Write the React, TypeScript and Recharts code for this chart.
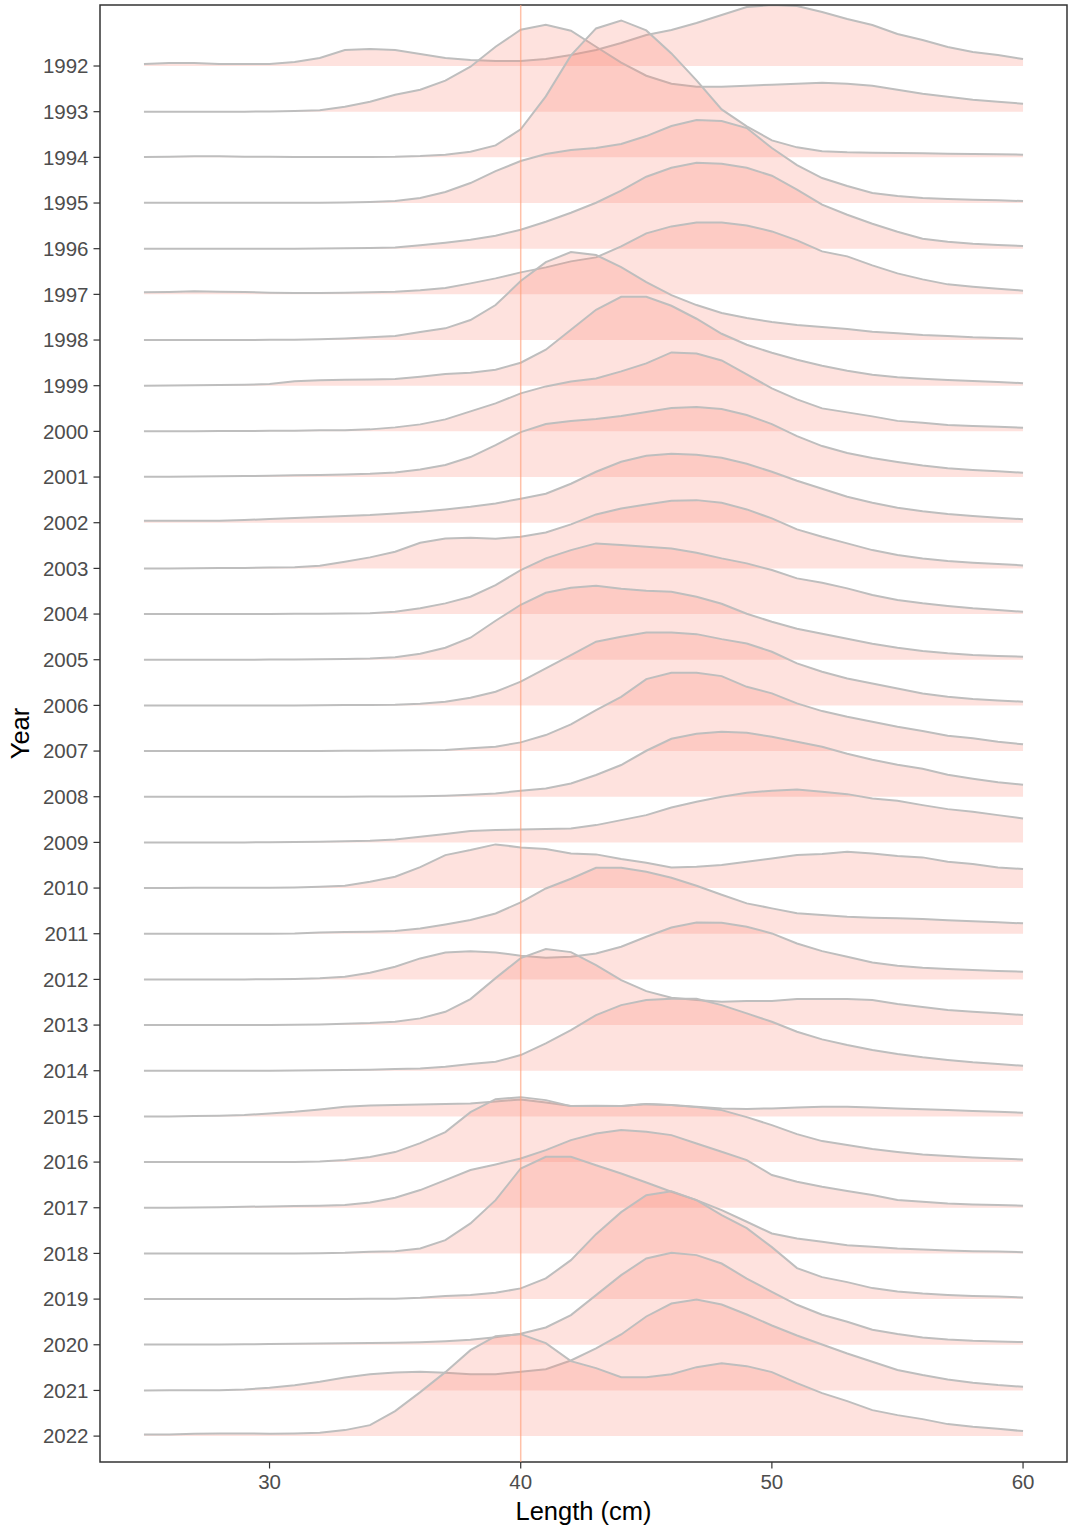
import { ComposedChart, Area, XAxis, YAxis, ReferenceLine, ReferenceArea } from 'recharts';

const FONT = '"Liberation Sans", Arial, Helvetica, sans-serif';

const LENGTHS = [
  25, 26, 27, 28, 29, 30, 31, 32, 33, 34, 35, 36, 37, 38, 39, 40, 41, 42,
  43, 44, 45, 46, 47, 48, 49, 50, 51, 52, 53, 54, 55, 56, 57, 58, 59, 60,
];

const YEARS = [
  1992, 1993, 1994, 1995, 1996, 1997, 1998, 1999, 2000, 2001, 2002, 2003,
  2004, 2005, 2006, 2007, 2008, 2009, 2010, 2011, 2012, 2013, 2014, 2015,
  2016, 2017, 2018, 2019, 2020, 2021, 2022,
];

const X_TICKS = [30, 40, 50, 60];
const REF_LENGTH = 40;

// relative density per 1 cm length class (25..60 cm)
const d1992 = [2, 3, 3, 2, 2, 2, 4, 8, 16, 17, 16, 12, 8, 6, 5, 5, 7, 11, 16, 23, 31, 36, 43, 51, 59, 61, 60, 54, 47, 41, 32, 26, 19, 14, 11, 7];
const d1993 = [0, 0, 0, 0, 0, 0.3, 0.7, 1.5, 5, 10, 17, 22, 31, 45, 65, 82, 87, 81, 65, 49, 36, 28, 25, 25, 26, 27, 28, 29, 28, 26, 22, 18, 15, 12, 10, 8];
const d1994 = [0.3, 0.5, 1, 1, 0.7, 0.5, 0.3, 0.3, 0.3, 0.3, 0.5, 1.3, 2.7, 5.7, 12, 28, 61, 102, 129, 137, 127, 104, 77, 48, 31, 17, 10, 6, 5, 4.7, 4.3, 4, 3.7, 3.3, 3, 2.7];
const d1995 = [0.3, 0.3, 0.3, 0.3, 0.3, 0.3, 0.3, 0.3, 0.5, 1, 2, 5, 11, 20, 32, 42, 49, 53, 55, 59, 67, 77, 83, 82, 75, 55, 38, 25, 17, 10, 7, 5, 4, 3.3, 2.7, 2];
const d1996 = [0, 0, 0, 0, 0, 0, 0, 0.2, 0.4, 0.7, 1.3, 3.5, 6, 9, 13, 19, 27, 36, 46, 58, 72, 81, 86, 85, 81, 73, 59, 44, 34, 25, 17, 10, 7, 5, 3.7, 2.7];
const d1997 = [2, 2.3, 3, 2.7, 2.3, 1.7, 1.3, 1.3, 1.7, 2, 2.7, 4, 6.3, 11, 16, 22, 27, 33, 37, 48, 61, 68, 72, 72, 69, 63, 54, 43, 38, 29, 21, 15, 10, 7.7, 5.7, 3.7];
const d1998 = [0, 0, 0, 0, 0, 0.2, 0.3, 0.7, 1.5, 2.7, 4, 8, 11.7, 20, 35, 59, 78, 88, 85, 73, 58, 45, 35, 27, 22, 18, 15, 13, 11, 8.3, 6.7, 5, 4, 2.7, 2, 1.3];
const d1999 = [0, 0.2, 0.4, 0.7, 1, 1.7, 4.5, 5.5, 6, 6.3, 6.7, 9, 11.7, 13, 16, 23, 36, 56, 76, 89, 89, 80, 67, 52, 41, 33, 26, 20, 15, 11, 8.5, 7, 5.7, 4.7, 3.7, 2.5];
const d2000 = [0, 0, 0.2, 0.3, 0.4, 0.5, 0.7, 1, 1.2, 2, 4, 7, 12, 20, 28, 38, 45, 50, 53, 60, 68, 79, 78, 71, 57, 43, 32, 23, 19, 15, 10.5, 8.7, 6.4, 5.4, 4.7, 3.7];
const d2001 = [0.3, 0.4, 0.5, 0.7, 1, 1.3, 1.7, 2, 2.5, 3.2, 4.5, 7.5, 12, 20, 32, 45, 53, 56, 58, 61, 65, 69, 70, 68, 62, 53, 41, 31, 24, 19, 15, 11.5, 8.7, 7, 5.7, 4.3];
const d2002 = [2, 2, 2, 2, 2.7, 3.7, 4.7, 5.7, 6.7, 7.7, 9.3, 11, 13.3, 16, 19.3, 24, 29, 39, 51, 61, 67, 69, 68, 65, 59, 51, 42, 34, 26, 20, 15, 11.5, 8.7, 6.7, 5, 3.4];
const d2003 = [0, 0, 0.2, 0.3, 0.5, 0.8, 1.2, 2.7, 6.7, 11, 16.7, 25.7, 30, 30.7, 29.7, 31.7, 36, 44, 54, 60, 64, 67.7, 68.3, 65.7, 59, 50, 39, 31.7, 25, 18.3, 13.3, 10, 7.3, 5.7, 4.3, 3];
const d2004 = [0, 0, 0, 0, 0, 0, 0.2, 0.3, 0.5, 0.7, 2.3, 5.7, 10.7, 17.3, 29, 44, 55.7, 64, 70.7, 69, 67.3, 65.7, 61.3, 55.7, 50.7, 44, 35.7, 31.3, 25.7, 19, 14, 10.7, 8, 5.7, 4, 2.3];
const d2005 = [0, 0, 0, 0, 0, 0.2, 0.3, 0.5, 0.7, 1.2, 2.5, 6, 12, 22, 39, 55, 67, 72, 74, 71, 69, 68, 63, 56, 46, 38, 31, 26, 21, 16, 12, 8.7, 6.4, 4.7, 3.7, 3];
const d2006 = [0, 0, 0, 0, 0, 0, 0, 0.2, 0.3, 0.5, 0.7, 1.7, 3.7, 7.7, 13.7, 23.7, 37, 50.3, 63.7, 68.7, 73, 73, 71.3, 66.3, 62, 53.7, 42, 33.7, 27, 22, 17, 12, 8.7, 6.3, 5, 3.7];
const d2007 = [0, 0, 0, 0, 0, 0, 0, 0, 0.2, 0.3, 0.5, 0.7, 1, 2.7, 4.3, 8.7, 16, 26.7, 41, 54.3, 72, 78.3, 78.3, 75, 64.3, 57.7, 47.7, 40, 34.3, 29.3, 24.3, 20, 15.3, 12.7, 9.3, 6.7];
const d2008 = [0, 0, 0, 0, 0, 0, 0, 0, 0, 0.2, 0.3, 0.5, 1, 2, 3.3, 6, 8.3, 13.3, 21.7, 31.7, 46, 58, 63, 65, 64, 60, 55, 50, 43, 37, 32, 28, 22, 18, 14.4, 12];
const d2009 = [0, 0, 0, 0, 0, 0.2, 0.4, 0.7, 1.2, 1.7, 3, 5.7, 8.3, 11.3, 12.3, 13, 13.3, 14, 17.3, 22.3, 27.3, 35, 40.7, 45.7, 49.7, 51.7, 53, 50.7, 48.3, 44, 41.7, 37.3, 33.3, 30.7, 27.3, 24];
const d2010 = [0, 0, 0.2, 0.2, 0.2, 0.3, 0.6, 1.3, 2.3, 6.3, 11.3, 21, 33, 38, 43.7, 40.7, 39, 34.7, 33.7, 29, 25.3, 20.7, 21.3, 23, 26.3, 29.7, 33, 34, 36.3, 34.7, 32, 30.7, 26.3, 24, 20.7, 19];
const d2011 = [0, 0, 0, 0, 0, 0, 0.3, 1.3, 1.7, 2, 2.7, 5.3, 9.3, 13.7, 20.3, 31.3, 45.3, 55, 66, 66, 62, 56, 48, 39, 30.4, 25.4, 20.4, 18.7, 17, 16, 15.4, 14.7, 13.4, 12.4, 11.4, 10.4];
const d2012 = [0, 0, 0, 0, 0, 0.2, 0.5, 1.2, 2.7, 6.7, 12.7, 21, 27, 28.3, 27, 23.7, 21.7, 22.7, 26, 32.7, 42.7, 52, 57, 56.7, 52.7, 46, 36, 28.3, 22.7, 17, 13.7, 11.7, 10.3, 9.3, 8.3, 7.7];
const d2013 = [0, 0, 0, 0, 0, 0.2, 0.4, 0.7, 1.3, 2, 3.3, 6.7, 13.3, 26, 47, 67, 76, 73, 60, 45, 34, 27.4, 25, 23.4, 24, 24, 26, 26, 26, 25, 21, 18, 15, 13.4, 11.8, 10];
const d2014 = [0, 0, 0, 0, 0, 0, 0.2, 0.4, 0.7, 1, 1.7, 2.3, 4, 6.7, 9, 15.7, 27.3, 40.7, 55.7, 65.7, 70.7, 72, 72, 65.7, 57.4, 49, 39, 31.4, 25.7, 20.7, 16.7, 13.4, 10.7, 8.4, 6.7, 5];
const d2015 = [0, 0, 0.3, 0.7, 1.4, 3, 4.7, 7, 9.7, 11, 11.4, 12, 12.4, 13, 15, 17, 14, 10.4, 10.7, 10.4, 12.4, 11.4, 9.7, 8, 7.5, 8, 9, 9.7, 9.7, 9, 8, 7.2, 6.4, 5.5, 4.6, 3.7];
const d2016 = [0, 0, 0, 0, 0, 0, 0.2, 0.5, 2, 5, 10, 19, 30, 50, 63, 65, 62, 56, 56, 56, 58, 57, 55, 52, 45, 37, 28, 21, 17, 13, 10, 7.5, 6, 4.7, 3.5, 2.7];
const d2017 = [0, 0, 0.2, 0.5, 1, 1.3, 1.7, 2, 2.7, 5.3, 10, 17.7, 27.7, 37.7, 43.3, 49.3, 57.7, 67.7, 74.3, 77.7, 76, 72.7, 64.3, 56, 47.7, 32.7, 26, 21, 16.7, 12.7, 7.7, 6, 4.3, 3.3, 2.7, 2];
const d2018 = [0, 0, 0, 0, 0, 0, 0, 0.3, 0.7, 1.7, 2.3, 5, 13.3, 30, 53.3, 85, 96.7, 96.7, 88.3, 80, 71, 61.7, 53.3, 43.3, 31.7, 20, 15, 11.7, 8.3, 6.7, 5, 4, 3, 2.3, 2, 1.3];
const d2019 = [0, 0, 0, 0, 0, 0, 0, 0, 0.2, 0.3, 0.3, 1.3, 3, 4, 6.3, 10.7, 20.7, 39, 65, 87, 104, 108, 99, 84, 71, 52, 31, 22, 17, 11, 7.5, 5.5, 4.1, 3.2, 2.5, 1.7];
const d2020 = [0.3, 0.3, 0.3, 0.3, 0.5, 0.7, 1, 1.3, 1.5, 1.8, 2, 2.5, 3.5, 5, 7.5, 11, 17.3, 29.7, 49.7, 69.7, 86.3, 92, 89.7, 81.3, 66.3, 53, 40, 30, 23, 15, 10.7, 7.3, 5.3, 4, 3.3, 2.7];
const d2021 = [0, 0.2, 0.3, 0.3, 1, 2.7, 5.3, 8.7, 13, 16.3, 18, 18.7, 17.7, 16.3, 16.3, 18.7, 21.3, 30, 42, 56, 74, 87, 91, 86, 76, 65, 55, 46, 37, 28.7, 20.4, 15.4, 11, 7.7, 5.4, 3.7];
const d2022 = [1.7, 1.7, 2.3, 2.7, 2.7, 2.3, 2.7, 3.3, 6, 11, 25, 44, 64, 86, 100, 102, 93, 75, 68, 59, 59, 62, 69, 73, 70, 64, 53, 43, 35, 26, 21, 17, 12, 9.4, 7.4, 5];

const RIDGES = [
  d1992, d1993, d1994, d1995, d1996, d1997, d1998, d1999, d2000, d2001, d2002,
  d2003, d2004, d2005, d2006, d2007, d2008, d2009, d2010, d2011, d2012, d2013,
  d2014, d2015, d2016, d2017, d2018, d2019, d2020, d2021, d2022,
];

// ridge height: density units -> rows of the y scale
const RIDGE_SCALE = 1 / 45.7;
const TOP_ROW = YEARS.length - 1;
const rowOf = (i: number) => TOP_ROW - i;

const X_DOMAIN: [number, number] = [23.25, 61.75];
const Y_DOMAIN: [number, number] = [-0.567, 31.336];

const data = LENGTHS.map((len, j) => {
  const row: Record<string, number> = { len };
  RIDGES.forEach((r, i) => {
    row[`y${YEARS[i]}`] = rowOf(i) + r[j] * RIDGE_SCALE;
  });
  return row;
});

const yTicks = YEARS.map((_, i) => rowOf(i));

function XTitle(props: any) {
  const { x, y, width } = props.viewBox;
  return (
    <text x={x + width / 2} y={y + 58} textAnchor="middle" fontSize={25.5} fill="#000" fontFamily={FONT}>
      Length (cm)
    </text>
  );
}

function YTitle(props: any) {
  const { x, y, height } = props.viewBox;
  const cx = x + 29;
  const cy = y + height / 2;
  return (
    <text x={cx} y={cy} transform={`rotate(-90, ${cx}, ${cy})`} textAnchor="middle" fontSize={25.5} fill="#000" fontFamily={FONT}>
      Year
    </text>
  );
}

const tickStyle = { fill: '#4D4D4D', fontSize: 20.5, fontFamily: FONT };

export default function App() {
  return (
    <div style={{ position: 'absolute', left: 0, top: 0, width: 1069, height: 1532, background: '#fff', fontFamily: FONT }}>
      <ComposedChart width={1069} height={1532} data={data} margin={{ top: 5, right: 2, bottom: 0, left: 0 }}>
        <XAxis
          dataKey="len"
          type="number"
          domain={X_DOMAIN}
          ticks={X_TICKS}
          allowDataOverflow
          height={70}
          axisLine={false}
          tickLine={{ stroke: '#333333', strokeWidth: 1.2 }}
          tickSize={6.5}
          tickMargin={6}
          tick={tickStyle}
          label={<XTitle />}
        />
        <YAxis
          type="number"
          domain={Y_DOMAIN}
          ticks={yTicks}
          interval={0}
          allowDataOverflow
          width={100}
          axisLine={false}
          tickLine={{ stroke: '#333333', strokeWidth: 1.2 }}
          tickSize={6.5}
          tickMargin={5}
          tick={tickStyle}
          tickFormatter={(v: number) => String(YEARS[TOP_ROW - Number(v)])}
          label={<YTitle />}
        />
        <ReferenceLine x={REF_LENGTH} stroke="#FFA07A" strokeOpacity={0.65} strokeWidth={1.5} />
        {YEARS.map((yr, i) => (
          <Area
            key={yr}
            dataKey={`y${yr}`}
            type="linear"
            baseValue={rowOf(i)}
            stroke="#BEBEBE"
            strokeWidth={2}
            fill="#FA8072"
            fillOpacity={0.23}
            dot={false}
            activeDot={false}
            isAnimationActive={false}
          />
        ))}
        <ReferenceArea
          x1={X_DOMAIN[0]}
          x2={X_DOMAIN[1]}
          y1={Y_DOMAIN[0]}
          y2={Y_DOMAIN[1]}
          fill="none"
          stroke="#333333"
          strokeWidth={1.5}
          ifOverflow="visible"
        />
      </ComposedChart>
    </div>
  );
}
